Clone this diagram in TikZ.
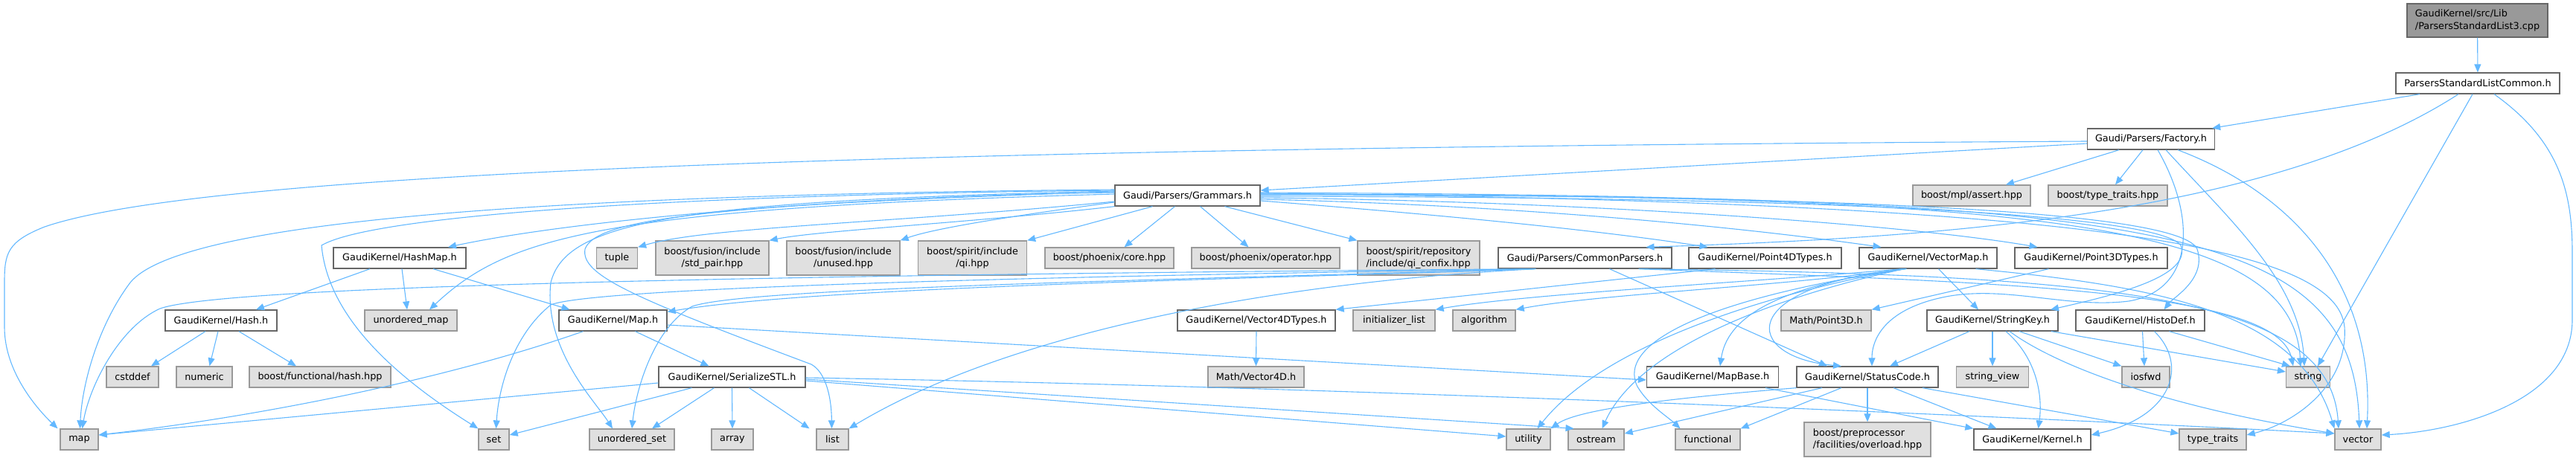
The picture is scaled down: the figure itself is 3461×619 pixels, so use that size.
\documentclass[tikz,border=0pt]{standalone}
\usepackage{fontspec}
\setmainfont{DejaVu Sans}
\usetikzlibrary{arrows.meta}
\definecolor{edgeblue}{RGB}{99,184,255}
\definecolor{docgray}{RGB}{102,102,102}
\definecolor{sysgray}{RGB}{153,153,153}
\definecolor{sysfill}{RGB}{224,224,224}
\definecolor{srcfill}{RGB}{153,153,153}

\begin{document}
\begin{tikzpicture}[x=1pt, y=-1pt,
    docbox/.style={draw=docgray, fill=white, line width=1.3pt, inner sep=0pt,
        minimum height=28pt, font=\fontsize{12.8}{16.5}\selectfont},
    sysbox/.style={docbox, draw=sysgray, fill=sysfill},
    srcbox/.style={docbox, fill=srcfill},
    dep/.style={draw=edgeblue, line width=1.1pt, -{Triangle[length=11pt,width=9pt]}}]
\useasboundingbox (0,0) rectangle (3461,619);

% top of the graph
\node[srcbox, minimum width=189pt, minimum height=45pt, align=left] (src) at (3328.5,27.5) {GaudiKernel/src/Lib\\/ParsersStandardList3.cpp};
\node[docbox, minimum width=220pt] (common) at (3329,112) {ParsersStandardListCommon.h};
\node[docbox, minimum width=171pt] (factory) at (2890,187) {Gaudi/Parsers/Factory.h};
\node[docbox, minimum width=195pt] (grammars) at (1595.5,263) {Gaudi/Parsers/Grammars.h};
\node[sysbox, minimum width=158pt] (mplassert) at (2649,263) {boost/mpl/assert.hpp};
\node[sysbox, minimum width=160pt] (btypetraits) at (2832,263) {boost/type\_traits.hpp};

% row 4
\node[docbox, minimum width=178pt] (hashmap) at (537,347) {GaudiKernel/HashMap.h};
\node[sysbox, minimum width=55pt] (tuple) at (829,347) {tuple};
\node[sysbox, minimum width=152pt, minimum height=46pt, align=center] (stdpair) at (957,347) {boost/fusion/include\\/std\_pair.hpp};
\node[sysbox, minimum width=152pt, minimum height=46pt, align=center] (unused) at (1133,347) {boost/fusion/include\\/unused.hpp};
\node[sysbox, minimum width=146pt, minimum height=46pt, align=center] (qi) at (1306.5,347) {boost/spirit/include\\/qi.hpp};
\node[sysbox, minimum width=173pt] (phxcore) at (1490.5,347) {boost/phoenix/core.hpp};
\node[sysbox, minimum width=199pt] (phxop) at (1700.5,347) {boost/phoenix/operator.hpp};
\node[sysbox, minimum width=164pt, minimum height=46pt, align=left] (confix) at (1906,347) {boost/spirit/repository\\/include/qi\_confix.hpp};
\node[docbox, minimum width=233pt] (commonparsers) at (2129.5,347) {Gaudi/Parsers/CommonParsers.h};
\node[docbox, minimum width=205pt] (point4d) at (2371.5,347) {GaudiKernel/Point4DTypes.h};
\node[docbox, minimum width=185pt] (vectormap) at (2590.5,347) {GaudiKernel/VectorMap.h};
\node[docbox, minimum width=205pt] (point3d) at (2809.5,347) {GaudiKernel/Point3DTypes.h};

% row 5
\node[docbox, minimum width=150pt] (hash) at (297,431) {GaudiKernel/Hash.h};
\node[sysbox, minimum width=124pt] (umap) at (552,431) {unordered\_map};
\node[docbox, minimum width=145pt] (kmap) at (823.5,431) {GaudiKernel/Map.h};
\node[docbox, minimum width=212pt] (vector4d) at (1688,431) {GaudiKernel/Vector4DTypes.h};
\node[sysbox, minimum width=110pt] (initlist) at (1873,431) {initializer\_list};
\node[sysbox, minimum width=84pt] (algorithm) at (1994,431) {algorithm};
\node[sysbox, minimum width=121pt] (mpoint3d) at (2453.5,431) {Math/Point3D.h};
\node[docbox, minimum width=176pt] (stringkey) at (2677,431) {GaudiKernel/StringKey.h};
\node[docbox, minimum width=173pt] (histodef) at (2875.5,431) {GaudiKernel/HistoDef.h};

% row 6
\node[sysbox, minimum width=70pt] (cstddef) at (178,507) {cstddef};
\node[sysbox, minimum width=75pt] (numeric) at (274.5,507) {numeric};
\node[sysbox, minimum width=190pt] (bfhash) at (430,507) {boost/functional/hash.hpp};
\node[docbox, minimum width=197pt] (serialize) at (983.5,507) {GaudiKernel/SerializeSTL.h};
\node[sysbox, minimum width=129pt] (mvector4d) at (1687.5,507) {Math/Vector4D.h};
\node[docbox, minimum width=177pt] (mapbase) at (2301,507) {GaudiKernel/MapBase.h};
\node[docbox, minimum width=190pt] (statuscode) at (2509,507) {GaudiKernel/StatusCode.h};
\node[sysbox, minimum width=97pt] (stringview) at (2677,507) {string\_view};
\node[sysbox, minimum width=64pt] (iosfwd) at (2883,507) {iosfwd};
\node[sysbox, minimum width=59pt] (string) at (3101,507) {string};

% bottom row
\node[sysbox, minimum width=51pt] (map) at (106.5,591) {map};
\node[sysbox, minimum width=41pt] (set) at (663.5,591) {set};
\node[sysbox, minimum width=114pt] (uset) at (849,591) {unordered\_set};
\node[sysbox, minimum width=56pt] (array) at (984,591) {array};
\node[sysbox, minimum width=43pt] (list) at (1118.5,591) {list};
\node[sysbox, minimum width=59pt] (utility) at (2053.5,591) {utility};
\node[sysbox, minimum width=75pt] (ostream) at (2144.5,591) {ostream};
\node[sysbox, minimum width=87pt] (functional) at (2294.5,591) {functional};
\node[sysbox, minimum width=170pt, minimum height=46pt, align=left] (overload) at (2509,591) {boost/preprocessor\\/facilities/overload.hpp};
\node[docbox, minimum width=157pt] (kernel) at (2730.5,591) {GaudiKernel/Kernel.h};
\node[sysbox, minimum width=90pt] (typetraits) at (2973,591) {type\_traits};
\node[sysbox, minimum width=62pt] (vector) at (3168,591) {vector};

% source file and ParsersStandardListCommon.h
\draw[dep] (src) -- (common);
\draw[dep] ([xshift=-78pt]common.south) -- ([xshift=-4pt]factory.north east);
\draw[dep] ([xshift=-26pt]common.south) .. controls (3050,290) and (2600,320) .. ([xshift=82pt]commonparsers.north);
\draw[dep] ([xshift=-7pt]common.south) -- ([xshift=13pt]string.north);
\draw[dep] ([xshift=22pt]common.south) .. controls (3440,190) and (3456,260) .. (3456,340) -- (3456,430)
    .. controls (3456,540) and (3300,580) .. ([yshift=6pt]vector.east);

% Factory.h
\draw[dep] ([yshift=-6pt]factory.west) -- ([yshift=7pt]grammars.east);
\draw[dep] ([yshift=-3pt]factory.west) .. controls (1000,200) and (250,240) .. (60,305)
    .. controls (10,325) and (6,340) .. (6,380) -- (6,440) .. controls (6,500) and (50,550) .. ([xshift=-29pt]map.north);
\draw[dep] ([xshift=-43pt]factory.south) -- ([xshift=46pt]mplassert.north);
\draw[dep] ([xshift=-11pt]factory.south) -- ([xshift=10pt]btypetraits.north);
\draw[dep] ([xshift=9pt]factory.south) .. controls (2950,290) and (2950,390) .. (2860,405)
    .. controls (2780,415) and (2700,385) .. (2620,398) .. controls (2540,412) and (2515,450) .. ([xshift=6pt]statuscode.north);
\draw[dep] ([xshift=20pt]factory.south) .. controls (3000,300) and (3090,380) .. ([xshift=-5pt]string.north);
\draw[dep] ([xshift=36pt]factory.south) .. controls (3080,260) and (3190,380) .. ([xshift=12pt]vector.north);

% Grammars.h
\draw[dep] ([yshift=4pt]grammars.west) .. controls (1200,262) and (800,290) .. ([xshift=65pt]hashmap.north);
\draw[dep] ([yshift=2pt]grammars.west) .. controls (800,280) and (680,320) .. ([xshift=25pt]umap.north);
\draw[dep] ([yshift=-8pt]grammars.west) .. controls (1200,300) and (950,305) .. (tuple.north east);
\draw[dep] (grammars.south west) .. controls (1300,300) and (1100,310) .. (stdpair.north east);
\draw[dep] ([yshift=-9pt]grammars.west) .. controls (1400,285) and (1260,305) .. (unused.north east);
\draw[dep] ([xshift=-47pt]grammars.south) -- (qi.north east);
\draw[dep] ([xshift=-17pt]grammars.south) -- ([xshift=20pt]phxcore.north);
\draw[dep] ([xshift=17pt]grammars.south) -- ([xshift=-23pt]phxop.north);
\draw[dep] ([xshift=50pt]grammars.south) -- (confix.north west);
\draw[dep] ([yshift=-7pt]grammars.east) .. controls (1950,290) and (2150,310) .. ([xshift=-77pt]point4d.north);
\draw[dep] ([yshift=-5pt]grammars.east) .. controls (2000,275) and (2300,300) .. ([xshift=-63pt]vectormap.north);
\draw[dep] ([yshift=-3pt]grammars.east) .. controls (2100,270) and (2550,300) .. ([xshift=-72pt]point3d.north);
\draw[dep] ([yshift=-1pt]grammars.east) .. controls (2500,265) and (2900,290) .. (2930,330)
    .. controls (2945,370) and (2850,395) .. ([xshift=78pt]stringkey.north);
\draw[dep] ([yshift=1pt]grammars.east) .. controls (2500,262) and (2930,285) .. (2952,335)
    .. controls (2965,375) and (2920,400) .. ([xshift=32pt]histodef.north);
\draw[dep] ([yshift=2pt]grammars.east) .. controls (2750,262) and (3080,300) .. ([xshift=-10pt]string.north);
\draw[dep] ([yshift=3pt]grammars.east) .. controls (2800,272) and (3140,330) .. (3150,440)
    .. controls (3155,520) and (3080,570) .. ([yshift=6pt]typetraits.east);
\draw[dep] ([yshift=4pt]grammars.east) .. controls (2900,265) and (3160,300) .. ([xshift=2pt]vector.north);
\draw[dep] ([yshift=8pt]grammars.west) .. controls (700,262) and (240,300) .. (175,380)
    .. controls (130,440) and (110,520) .. ([xshift=1pt]map.north);
\draw[dep] ([yshift=7pt]grammars.west) .. controls (900,262) and (500,290) .. (432,330)
    .. controls (440,420) and (520,500) .. (set.north west);
\draw[dep] ([yshift=6pt]grammars.west) .. controls (900,270) and (760,300) .. (740,380)
    .. controls (730,470) and (800,540) .. ([xshift=-26pt]uset.north);
\draw[dep] ([yshift=5pt]grammars.west) .. controls (950,275) and (800,295) .. (786,335)
    .. controls (780,370) and (850,400) .. (1090,490) .. controls (1108,500) and (1117,530) .. ([xshift=-1pt]list.north);

% CommonParsers.h
\draw[dep] ([xshift=-68pt]commonparsers.south) .. controls (1700,375) and (1100,385) .. ([yshift=-3pt]kmap.north east);
\draw[dep] ([xshift=-70pt]commonparsers.south) .. controls (1000,370) and (300,385) .. (215,415)
    .. controls (160,440) and (120,520) .. ([xshift=4pt]map.north);
\draw[dep] ([xshift=-69pt]commonparsers.south) .. controls (1500,370) and (800,385) .. (740,410)
    .. controls (690,450) and (670,520) .. ([xshift=3pt]set.north);
\draw[dep] ([xshift=-67pt]commonparsers.south) .. controls (1500,378) and (1000,388) .. (930,412)
    .. controls (880,440) and (855,520) .. (uset.north);
\draw[dep] ([xshift=-66pt]commonparsers.south) .. controls (1700,380) and (1350,450) .. (list.north east);
\draw[dep] ([xshift=33pt]commonparsers.south) -- ([xshift=-54pt]statuscode.north);
\draw[dep] ([xshift=72pt]commonparsers.south) .. controls (2700,380) and (3060,390) .. ([xshift=-20pt]string.north);
\draw[dep] ([xshift=74pt]commonparsers.south) .. controls (2850,370) and (3130,400) .. ([xshift=-26pt]vector.north);

% VectorMap.h
\draw[dep] ([xshift=-34pt]vectormap.south) .. controls (2400,385) and (2150,395) .. (algorithm.north east);
\draw[dep] ([xshift=-35pt]vectormap.south) .. controls (2350,380) and (2050,395) .. (initlist.north east);
\draw[dep] ([xshift=-33pt]vectormap.south) .. controls (2350,400) and (2150,470) .. ([xshift=12pt]utility.north);
\draw[dep] ([xshift=-32pt]vectormap.south) .. controls (2380,400) and (2200,470) .. ([xshift=8pt]ostream.north);
\draw[dep] ([xshift=-31pt]vectormap.south) .. controls (2300,400) and (2170,460) .. (2200,520)
    .. controls (2215,545) and (2240,560) .. ([xshift=-37pt]functional.north);
\draw[dep] ([xshift=-30pt]vectormap.south) .. controls (2380,385) and (2320,430) .. ([xshift=10pt]mapbase.north);
\draw[dep] ([xshift=-29pt]vectormap.south) .. controls (2330,385) and (2340,480) .. ([xshift=-35pt]statuscode.north);
\draw[dep] ([xshift=14pt]vectormap.south) -- ([xshift=-19pt]stringkey.north);
\draw[dep] ([xshift=64pt]vectormap.south) .. controls (2900,385) and (3090,420) .. (vector.north west);

% Point and vector types
\draw[dep] ([xshift=-67pt]point4d.south) -- (vector4d.north east);
\draw[dep] ([xshift=-57pt]point3d.south) -- (mpoint3d.north east);
\draw[dep] (vector4d.south) -- (mvector4d.north);

% StringKey.h and HistoDef.h
\draw[dep] ([xshift=-31pt]stringkey.south) -- ([xshift=30pt]statuscode.north);
\draw[dep] (stringkey.south) -- (stringview.north);
\draw[dep] ([xshift=18pt]stringkey.south) .. controls (2735,480) and (2745,530) .. ([xshift=8pt]kernel.north);
\draw[dep] ([xshift=23pt]stringkey.south) .. controls (2760,490) and (2900,545) .. ([yshift=8pt]vector.west);
\draw[dep] ([xshift=36pt]stringkey.south) -- (iosfwd.north west);
\draw[dep] ([xshift=79pt]stringkey.south) -- ([yshift=7pt]string.west);
\draw[dep] ([xshift=3pt]histodef.south) -- ([xshift=-2pt]iosfwd.north);
\draw[dep] ([xshift=19pt]histodef.south) .. controls (2940,490) and (2920,560) .. ([yshift=6pt]kernel.east);
\draw[dep] ([xshift=39pt]histodef.south) -- ([xshift=-24pt]string.north);

% StatusCode.h and MapBase.h
\draw[dep] (statuscode.south west) .. controls (2250,535) and (2120,550) .. (utility.north east);
\draw[dep] ([xshift=-61pt]statuscode.south) -- ([yshift=8pt]ostream.east);
\draw[dep] ([xshift=-35pt]statuscode.south) -- (functional.north east);
\draw[dep] (statuscode.south) -- (overload.north);
\draw[dep] ([xshift=35pt]statuscode.south) -- ([xshift=-48pt]kernel.north);
\draw[dep] ([xshift=74pt]statuscode.south) -- ([yshift=8pt]typetraits.west);
\draw[dep] ([xshift=71pt]mapbase.south) -- (kernel.north west);

% HashMap.h, Hash.h, Map.h
\draw[dep] ([xshift=-40pt]hashmap.south) -- ([xshift=47pt]hash.north);
\draw[dep] ([xshift=3pt]hashmap.south) -- ([xshift=-5pt]umap.north);
\draw[dep] ([xshift=45pt]hashmap.south) -- ([xshift=-58pt]kmap.north);
\draw[dep] ([xshift=-21pt]hash.south) -- ([xshift=25pt]cstddef.north);
\draw[dep] ([xshift=-4pt]hash.south) -- ([xshift=7pt]numeric.north);
\draw[dep] ([xshift=24pt]hash.south) -- ([xshift=-32pt]bfhash.north);
\draw[dep] ([xshift=-40pt]kmap.south) .. controls (600,510) and (350,560) .. ([yshift=6pt]map.east);
\draw[dep] ([xshift=30pt]kmap.south) -- ([xshift=-31pt]serialize.north);
\draw[dep] ([yshift=-6pt]kmap.east) -- ([yshift=-4pt]mapbase.west);

% SerializeSTL.h
\draw[dep] ([yshift=-8pt]serialize.west) -- ([yshift=6pt]map.east);
\draw[dep] ([xshift=-54pt]serialize.south) -- ([yshift=6pt]set.east);
\draw[dep] ([xshift=-24pt]serialize.south) -- ([xshift=27pt]uset.north);
\draw[dep] (serialize.south) -- (array.north);
\draw[dep] ([xshift=23pt]serialize.south) -- ([xshift=-31pt]list.north);
\draw[dep] ([yshift=-5pt]serialize.east) -- ([yshift=4pt]utility.west);
\draw[dep] ([yshift=-3pt]serialize.east) -- ([xshift=-30pt]ostream.north);
\draw[dep] ([yshift=-1pt]serialize.east) .. controls (1800,520) and (2700,560) .. ([yshift=8pt]vector.west);
\end{tikzpicture}
\end{document}
